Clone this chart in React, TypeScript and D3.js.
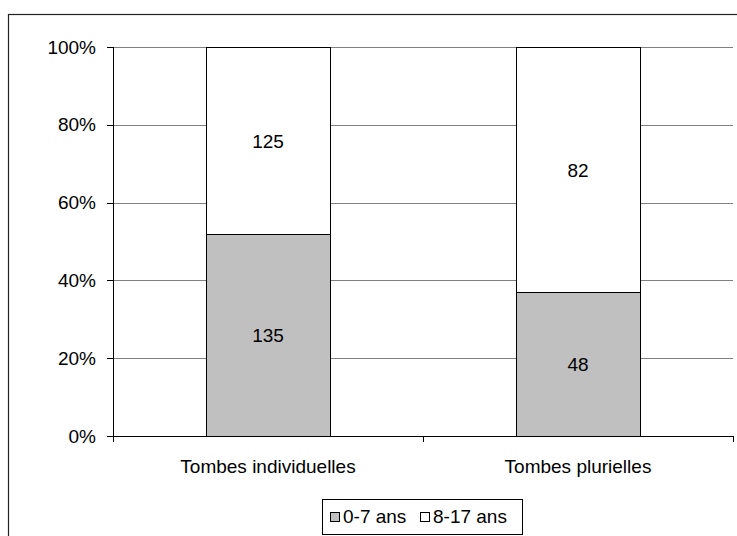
import React from "react";
import * as d3 from "d3";

const categories = ["Tombes individuelles", "Tombes plurielles"];
const series = ["0-7 ans", "8-17 ans"];
const young = [135, 48];
const older = [125, 82];
const yTicks = [0, 0.2, 0.4, 0.6, 0.8, 1];
const colors = ["#c0c0c0", "#ffffff"];

export default function App() {
  const W = 737, H = 536;
  const left = 113, right = 733, top = 47, bottom = 436;
  const x = d3.scaleBand().domain(categories).range([left, right]).paddingInner(0).paddingOuter(0);
  const y = d3.scaleLinear().domain([0, 1]).range([bottom, top]);
  const bw = x.bandwidth() * 0.4;
  const font = "'Liberation Sans', Arial, sans-serif";
  const fs = 19;
  const pct = d3.format(".0%");

  const rows = categories.map((c, i) => {
    const total = young[i] + older[i];
    return { c, vals: [young[i], older[i]], total };
  });

  return (
    <svg width={W} height={H} style={{ position: "absolute", left: 0, top: 0, display: "block" }} fontFamily={font}>
      <rect x={0} y={0} width={W} height={H} fill="#fff" />
      <rect x={8.5} y={14.5} width={900} height={700} fill="none" stroke="#222" strokeWidth={1.2} />
      {yTicks.map((t) => (
        <g key={t}>
          {t > 0 && <line x1={left} x2={right} y1={Math.round(y(t)) + 0.5} y2={Math.round(y(t)) + 0.5} stroke="#808080" />}
          <line x1={left - 6} x2={left} y1={Math.round(y(t)) + 0.5} y2={Math.round(y(t)) + 0.5} stroke="#000" />
          <text x={96} y={y(t)} dy="0.35em" textAnchor="end" fontSize={fs} fill="#000">{pct(t)}</text>
        </g>
      ))}
      {rows.map((r) => {
        let acc = 0;
        const cx = (x(r.c) as number) + x.bandwidth() / 2;
        return (
          <g key={r.c}>
            {r.vals.map((v, j) => {
              const y0 = acc / r.total;
              acc += v;
              const y1 = acc / r.total;
              const yt = Math.round(y(y1)) + 0.5;
              const yb = Math.round(y(y0)) + 0.5;
              return (
                <g key={j}>
                  <rect x={Math.round(cx - bw / 2) + 0.5} y={yt} width={Math.round(bw)} height={yb - yt} fill={colors[j]} stroke="#000" strokeWidth={1} />
                  <text x={cx} y={(yt + yb) / 2} dy="0.35em" textAnchor="middle" fontSize={fs} fill="#000">{v}</text>
                </g>
              );
            })}
            <text x={cx} y={472.5} textAnchor="middle" fontSize={fs} fill="#000">{r.c}</text>
          </g>
        );
      })}
      <line x1={left + 0.5} x2={left + 0.5} y1={top} y2={bottom + 6} stroke="#000" />
      <line x1={left} x2={right} y1={bottom + 0.5} y2={bottom + 0.5} stroke="#000" />
      {[...categories.map((c) => x(c) as number), right].map((t, i) => (
        <line key={i} x1={Math.round(t) + 0.5} x2={Math.round(t) + 0.5} y1={bottom} y2={bottom + 6} stroke="#000" />
      ))}
      <g>
        <rect x={322.5} y={499.5} width={200} height={35} fill="#fff" stroke="#000" />
        {series.map((s, i) => {
          const lx = i === 0 ? 330 : 420;
          return (
            <g key={s}>
              <rect x={lx + 0.5} y={512.5} width={9} height={9} fill={colors[i]} stroke="#000" />
              <text x={lx + 13} y={523} fontSize={fs} fill="#000">{s}</text>
            </g>
          );
        })}
      </g>
    </svg>
  );
}
